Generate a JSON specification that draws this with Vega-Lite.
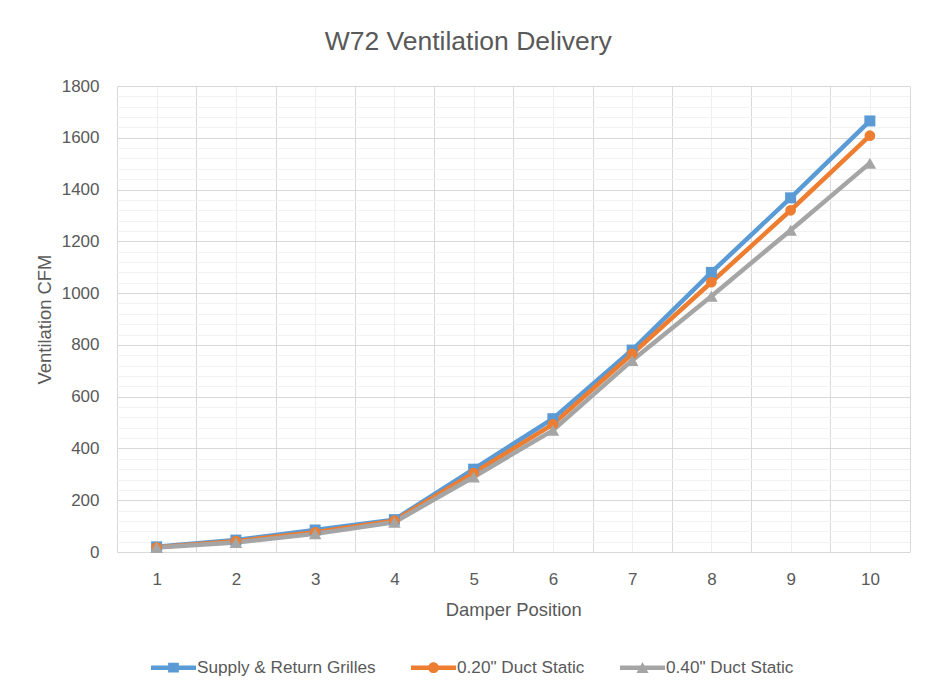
{
  "$schema": "https://vega.github.io/schema/vega-lite/v6.json",
  "width": 792.5,
  "height": 466,
  "autosize": {"type": "none"},
  "padding": {"left": 117, "top": 86, "right": 22.5, "bottom": 135},
  "background": "white",
  "config": {
    "view": {"stroke": null},
    "font": "Liberation Sans",
    "axis": {"labelColor": "#595959", "titleColor": "#595959", "labelFontSize": 17, "titleFontSize": 18.4, "titleFontWeight": "normal", "ticks": false, "tickSize": 0, "domain": false}
  },
  "title": {"text": "W72 Ventilation Delivery", "fontSize": 26.5, "fontWeight": "normal", "color": "#595959", "dx": -45, "offset": 21.5, "anchor": "middle"},
  "data": {"values": [
    {"pos": 1, "series": "Supply & Return Grilles", "k": 0, "cfm": 20},
    {"pos": 2, "series": "Supply & Return Grilles", "k": 0, "cfm": 46},
    {"pos": 3, "series": "Supply & Return Grilles", "k": 0, "cfm": 85},
    {"pos": 4, "series": "Supply & Return Grilles", "k": 0, "cfm": 125},
    {"pos": 5, "series": "Supply & Return Grilles", "k": 0, "cfm": 320},
    {"pos": 6, "series": "Supply & Return Grilles", "k": 0, "cfm": 515},
    {"pos": 7, "series": "Supply & Return Grilles", "k": 0, "cfm": 780},
    {"pos": 8, "series": "Supply & Return Grilles", "k": 0, "cfm": 1080},
    {"pos": 9, "series": "Supply & Return Grilles", "k": 0, "cfm": 1368},
    {"pos": 10, "series": "Supply & Return Grilles", "k": 0, "cfm": 1665},
    {"pos": 1, "series": "0.20\" Duct Static", "k": 1, "cfm": 18},
    {"pos": 2, "series": "0.20\" Duct Static", "k": 1, "cfm": 42},
    {"pos": 3, "series": "0.20\" Duct Static", "k": 1, "cfm": 76},
    {"pos": 4, "series": "0.20\" Duct Static", "k": 1, "cfm": 121},
    {"pos": 5, "series": "0.20\" Duct Static", "k": 1, "cfm": 305},
    {"pos": 6, "series": "0.20\" Duct Static", "k": 1, "cfm": 493},
    {"pos": 7, "series": "0.20\" Duct Static", "k": 1, "cfm": 765},
    {"pos": 8, "series": "0.20\" Duct Static", "k": 1, "cfm": 1042},
    {"pos": 9, "series": "0.20\" Duct Static", "k": 1, "cfm": 1320},
    {"pos": 10, "series": "0.20\" Duct Static", "k": 1, "cfm": 1608},
    {"pos": 1, "series": "0.40\" Duct Static", "k": 2, "cfm": 17},
    {"pos": 2, "series": "0.40\" Duct Static", "k": 2, "cfm": 37},
    {"pos": 3, "series": "0.40\" Duct Static", "k": 2, "cfm": 70},
    {"pos": 4, "series": "0.40\" Duct Static", "k": 2, "cfm": 115},
    {"pos": 5, "series": "0.40\" Duct Static", "k": 2, "cfm": 290},
    {"pos": 6, "series": "0.40\" Duct Static", "k": 2, "cfm": 470},
    {"pos": 7, "series": "0.40\" Duct Static", "k": 2, "cfm": 740},
    {"pos": 8, "series": "0.40\" Duct Static", "k": 2, "cfm": 988},
    {"pos": 9, "series": "0.40\" Duct Static", "k": 2, "cfm": 1243},
    {"pos": 10, "series": "0.40\" Duct Static", "k": 2, "cfm": 1502}
  ]},
  "layer": [
    {
      "mark": {"type": "line", "strokeWidth": 4.5, "strokeJoin": "round"},
      "encoding": {
        "x": {"field": "pos", "type": "quantitative", "scale": {"domain": [0.5, 10.5], "nice": false, "zero": false},
          "axis": {"values": [1,2,3,4,5,6,7,8,9,10], "grid": true, "gridColor": "#eeeeee", "gridWidth": 1, "title": "Damper Position", "labelPadding": 19, "titlePadding": 13, "orient": "bottom"}},
        "y": {"field": "cfm", "type": "quantitative", "scale": {"domain": [0, 1800], "nice": false},
          "axis": {"values": [0,200,400,600,800,1000,1200,1400,1600,1800], "format": "d", "grid": true, "gridColor": "#d9d9d9", "title": "Ventilation CFM", "labelPadding": 18, "titlePadding": 7, "orient": "left"}},
        "color": {"field": "series", "type": "nominal",
          "scale": {"domain": ["Supply & Return Grilles", "0.20\" Duct Static", "0.40\" Duct Static"], "range": ["#5B9BD5", "#ED7D31", "#A5A5A5"]},
          "legend": {"orient": "none", "direction": "horizontal", "legendX": 34, "legendY": 559, "title": null, "padding": 0,
            "symbolSize": 2025, "labelFontSize": 17.2, "labelColor": "#595959", "labelOffset": 1, "columnPadding": 35, "labelLimit": 400,
            "encode": {"symbols": {"update": {
              "shape": {"signal": "datum.value === 'Supply & Return Grilles' ? 'M-1,-0.1H1V0.1H-1Z M-0.24,-0.22H0.24V0.22H-0.24Z' : datum.value === '0.20\" Duct Static' ? 'M-1,-0.1H1V0.1H-1Z M-0.24,0A0.24,0.24 0 1,1 0.24,0A0.24,0.24 0 1,1 -0.24,0Z' : 'M-1,-0.1H1V0.1H-1Z M0,-0.25L0.27,0.24L-0.27,0.24Z'"},
              "fill": {"signal": "scale('color', datum.value)"},
              "stroke": {"value": "transparent"},
              "strokeWidth": {"value": 0}
            }}}}},
        "order": {"field": "k"}
      }
    },
    {
      "mark": {"type": "point", "filled": true, "opacity": 1},
      "encoding": {
        "x": {"field": "pos", "type": "quantitative",
          "axis": {"values": [0.5,1.5,2.5,3.5,4.5,5.5,6.5,7.5,8.5,9.5,10.5], "grid": true, "gridColor": "#d9d9d9", "labels": false, "title": null, "orient": "bottom", "domain": true, "domainColor": "#d9d9d9"}},
        "y": {"field": "cfm", "type": "quantitative",
          "axis": {"values": [40,80,120,160,240,280,320,360,440,480,520,560,640,680,720,760,840,880,920,960,1040,1080,1120,1160,1240,1280,1320,1360,1440,1480,1520,1560,1640,1680,1720,1760], "grid": true, "gridColor": "#f2f2f2", "labels": false, "title": null, "orient": "left"}},
        "color": {"field": "series", "type": "nominal", "legend": null},
        "shape": {"field": "k", "type": "nominal", "legend": null,
          "scale": {"domain": [0, 1, 2], "range": ["square", "circle", "triangle-up"]}},
        "size": {"field": "k", "type": "nominal", "legend": null,
          "scale": {"type": "ordinal", "domain": [0, 1, 2], "range": [121, 115, 160]}},
        "order": {"field": "k"}
      }
    }
  ],
  "resolve": {"axis": {"x": "independent", "y": "independent"}}
}
